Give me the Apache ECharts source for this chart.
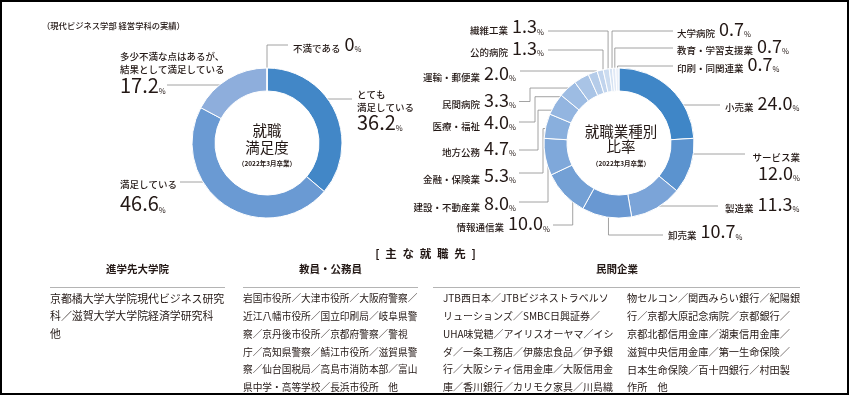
<!DOCTYPE html>
<html><head><meta charset="utf-8">
<script src="https://cdn.jsdelivr.net/npm/echarts@6/dist/echarts.min.js"></script>
<style>html,body{margin:0;padding:0;background:#fff}#c{width:850px;height:396px}</style>
</head><body><div id="c"></div>
<script>
// ---------- data ----------
const satCategories = ['とても\n満足している', '満足している', '多少不満な点はあるが、\n結果として満足している', '不満である'];
const satValues = [36.2, 46.6, 17.2, 0];

const jobCategories = ['小売業', 'サービス業', '製造業', '卸売業', '情報通信業', '建設・不動産業', '金融・保険業', '地方公務', '医療・福祉', '民間病院', '運輸・郵便業', '公的病院', '繊維工業', '大学病院', '教育・学習支援業', '印刷・同関連業'];
const jobValues = [24.0, 12.0, 11.3, 10.7, 10.0, 8.0, 5.3, 4.7, 4.0, 3.3, 2.0, 1.3, 1.3, 0.7, 0.7, 0.7];

const noteText = '（現代ビジネス学部 経営学科の実績）';
const satCenterTitle = ['就職', '満足度'];
const jobCenterTitle = ['就職業種別', '比率'];
const gradNote = '（2022年3月卒業）';
const sectionTitle = '[\u2002主\u2002な\u2002就\u2002職\u2002先\u2002]';
const colHeaders = ['進学先大学院', '教員・公務員', '民間企業'];
const col1Lines = ['京都橘大学大学院現代ビジネス研究', '科／滋賀大学大学院経済学研究科', '他'];
const col2Lines = ['岩国市役所／大津市役所／大阪府警察／', '近江八幡市役所／国立印刷局／岐阜県警', '察／京丹後市役所／京都府警察／警視', '庁／高知県警察／鯖江市役所／滋賀県警', '察／仙台国税局／高島市消防本部／富山', '県中学・高等学校／長浜市役所　他'];
const col3aLines = ['JTB西日本／JTBビジネストラベルソ', 'リューションズ／SMBC日興証券／', 'UHA味覚糖／アイリスオーヤマ／イシ', 'ダ／一条工務店／伊藤忠食品／伊予銀', '行／大阪シティ信用金庫／大阪信用金', '庫／香川銀行／カリモク家具／川島織'];
const col3bLines = ['物セルコン／関西みらい銀行／紀陽銀', '行／京都大原記念病院／京都銀行／', '京都北都信用金庫／湖東信用金庫／', '滋賀中央信用金庫／第一生命保険／', '日本生命保険／百十四銀行／村田製', '作所　他'];

// ---------- styles / layout ----------
const FONT = '"Noto Sans CJK JP", "Noto Sans", sans-serif';
const TXT = '#231815';
const LINE = '#8c8c8c';
const satColors = ['#4287c7', '#6a9ad3', '#8eaedc', '#b9cdea'];
const jobColors = ['#3f86c7', '#5b93cf', '#7ba4d8', '#6998d2', '#73a0d5', '#7fa8da', '#89afdd', '#93b5e0', '#9dbce3', '#a9c4e6', '#b5cce9', '#c1d4ed', '#ccdcf0', '#d6e3f3', '#e0e9f6', '#eaf0f9'];

// label placement: x,y = text anchor; lx,ly = leader end at label; ex = optional elbow x
const satLabelCfg = [
  {x: 357, y: 85.25, align: 'left', va: 'top', stack: true, v: 'v20', lx: 352, ly: 99},
  {x: 120, y: 175.25, align: 'left', va: 'top', stack: true, v: 'v25', lx: 180, ly: 182},
  {x: 120, y: 47.25, align: 'left', va: 'top', stack: true, v: 'v21', lx: 167, ly: 85},
  {x: 293, y: 42.7, align: 'left', va: 'middle', stack: false, v: 'vs', lx: 288, ly: 45}
];
const jobLabelCfg = [
  {x: 725, y: 102, align: 'left', va: 'middle', v: 'vs', lx: 720, ly: 105},
  {x: 800, y: 148.5, align: 'right', va: 'top', stack: true, v: 'vs', lx: 745, ly: 154},
  {x: 725, y: 203, align: 'left', va: 'middle', v: 'vs', lx: 718, ly: 206},
  {x: 668, y: 230.5, align: 'left', va: 'middle', v: 'vs', lx: 663, ly: 235},
  {x: 550, y: 222.5, align: 'right', va: 'middle', v: 'vs', lx: 553, ly: 225},
  {x: 516, y: 202, align: 'right', va: 'middle', v: 'vs', lx: 519, ly: 202, ex: 548},
  {x: 516, y: 174, align: 'right', va: 'middle', v: 'vs', lx: 519, ly: 173, ex: 543},
  {x: 516, y: 147, align: 'right', va: 'middle', v: 'vs', lx: 519, ly: 150, ex: 538},
  {x: 516, y: 121, align: 'right', va: 'middle', v: 'vs', lx: 519, ly: 122, ex: 535},
  {x: 516, y: 99, align: 'right', va: 'middle', v: 'vs', lx: 519, ly: 101.5, ex: 530},
  {x: 516, y: 72, align: 'right', va: 'middle', v: 'vs', lx: 520, ly: 71},
  {x: 544, y: 47, align: 'right', va: 'middle', v: 'vs', lx: 548, ly: 50},
  {x: 544, y: 25.5, align: 'right', va: 'middle', v: 'vs', lx: 548, ly: 31},
  {x: 677, y: 28, align: 'left', va: 'middle', v: 'vs', lx: 673, ly: 31},
  {x: 677, y: 45, align: 'left', va: 'middle', v: 'vs', lx: 673, ly: 48},
  {x: 677, y: 63, align: 'left', va: 'middle', v: 'vs', lx: 673, ly: 66}
];

const SAT_C = [267, 143], JOB_C = [619, 143];
const RADIUS = [52, 75];
const R_ANCHOR = 63.5;

const fmtVal = v => v === 0 ? '0' : v.toFixed(1);
function labelText(name, value, cfg) {
  const lines = name.split('\n').map(s => '{n|' + s + '}');
  const num = '{' + cfg.v + '|' + fmtVal(value) + '}{p|%}';
  return cfg.stack ? lines.join('\n') + '\n' + num : lines.join('') + '{g| }' + num;
}
const numStyle = (fs, lh) => ({fontSize: fs, lineHeight: lh, fontFamily: FONT, fontWeight: 'normal', color: TXT, verticalAlign: 'bottom'});
const rich = {
  n: {fontSize: 9.5, lineHeight: 13.5, fontFamily: FONT, fontWeight: 500, color: TXT, verticalAlign: 'bottom'},
  g: {width: 4, fontSize: 9.5, lineHeight: 13.5, fontFamily: FONT},
  p: {fontSize: 7.5, lineHeight: 10, fontFamily: FONT, color: TXT, verticalAlign: 'bottom'},
  vs: numStyle(18, 20),
  v20: numStyle(20, 20),
  v21: numStyle(20, 21),
  v25: numStyle(20, 25)
};

function makeLayout(cfgs, c, rA) {
  return function (params) {
    const cfg = cfgs[params.dataIndex];
    const out = {x: cfg.x, y: cfg.y, align: cfg.align, verticalAlign: cfg.va};
    const pts = params.labelLinePoints;
    if (pts && pts.length) {
      const ang = Math.atan2(pts[0][1] - c[1], pts[0][0] - c[0]);
      const ax = c[0] + rA * Math.cos(ang), ay = c[1] + rA * Math.sin(ang);
      out.labelLinePoints = cfg.ex != null
        ? [[ax, ay], [cfg.ex, ay], [cfg.ex, cfg.ly], [cfg.lx, cfg.ly]]
        : [[ax, ay], [ax, cfg.ly], [cfg.lx, cfg.ly]];
    }
    return out;
  };
}

function pieSeries(names, values, colors, cfgs, center) {
  return {
    type: 'pie', center: center, radius: RADIUS, startAngle: 90, clockwise: true,
    avoidLabelOverlap: false, silent: true, animation: false,
    data: names.map((n, i) => ({name: n, value: values[i], itemStyle: {color: colors[i]}})),
    itemStyle: {borderColor: '#ffffff', borderWidth: 1},
    label: {
      show: true, position: 'outside', overflow: 'none',
      formatter: p => labelText(p.name, p.value, cfgs[p.dataIndex]),
      rich: rich
    },
    labelLine: {show: true, length: 5, length2: 5, smooth: false, lineStyle: {color: LINE, width: 0.8}},
    labelLayout: makeLayout(cfgs, center, R_ANCHOR),
    emphasis: {disabled: true}
  };
}

function txt(text, x, y, o) {
  o = o || {};
  return {
    type: 'text', x: x, y: y, silent: true,
    style: {
      text: text, fill: o.fill || TXT, fontFamily: FONT,
      fontSize: o.fs || 10, fontWeight: o.fw || 'normal',
      align: o.align || 'left', verticalAlign: o.va || 'middle',
      lineHeight: o.lh
    }
  };
}
function hline(x1, x2, y) {
  return {type: 'line', silent: true, shape: {x1: x1, y1: y, x2: x2, y2: y}, style: {stroke: '#b4b4b4', lineWidth: 1}};
}

const BODY_LH = 17.8, BODY_TOP = 289.6;
const graphics = [
  {type: 'rect', silent: true, shape: {x: 1, y: 1, width: 847, height: 393}, style: {fill: 'none', stroke: '#000', lineWidth: 2}},
  txt(noteText, 42, 26, {fs: 8.3, fw: 500}),
  txt(satCenterTitle[0], SAT_C[0], 130, {fs: 14.5, align: 'center'}),
  txt(satCenterTitle[1], SAT_C[0], 147, {fs: 14.5, align: 'center'}),
  txt(gradNote, SAT_C[0], 164, {fs: 6.5, align: 'center', fw: 'bold'}),
  txt(jobCenterTitle[0], 621, 131, {fs: 14.5, align: 'center'}),
  txt(jobCenterTitle[1], 621, 146.5, {fs: 14.5, align: 'center'}),
  txt(gradNote, 621, 164, {fs: 6.5, align: 'center', fw: 'bold'}),
  txt(sectionTitle, 425.5, 253.5, {fs: 11.5, align: 'center', fw: 'bold'}),
  txt(colHeaders[0], 137.5, 269.5, {fs: 10.5, align: 'center', fw: 'bold'}),
  txt(colHeaders[1], 330.5, 269.5, {fs: 10.5, align: 'center', fw: 'bold'}),
  txt(colHeaders[2], 617, 269.5, {fs: 10.5, align: 'center', fw: 'bold'}),
  hline(50, 225, 287.5),
  hline(243, 418, 287.5),
  hline(433, 800, 287.5),
  txt(col1Lines.join('\n'), 50, BODY_TOP, {fs: 10.9, va: 'top', lh: BODY_LH}),
  txt(col2Lines.join('\n'), 243, BODY_TOP, {fs: 9.7, va: 'top', lh: BODY_LH}),
  txt(col3aLines.join('\n'), 443, BODY_TOP, {fs: 10, va: 'top', lh: BODY_LH}),
  txt(col3bLines.join('\n'), 627, BODY_TOP, {fs: 10.2, va: 'top', lh: BODY_LH})
];

const chart = echarts.init(document.getElementById('c'), null, {renderer: 'canvas'});
chart.setOption({
  backgroundColor: '#ffffff',
  animation: false,
  textStyle: {fontFamily: FONT},
  series: [
    pieSeries(satCategories, satValues, satColors, satLabelCfg, SAT_C),
    pieSeries(jobCategories, jobValues, jobColors, jobLabelCfg, JOB_C)
  ],
  graphic: {elements: graphics}
});
</script>
</body></html>
